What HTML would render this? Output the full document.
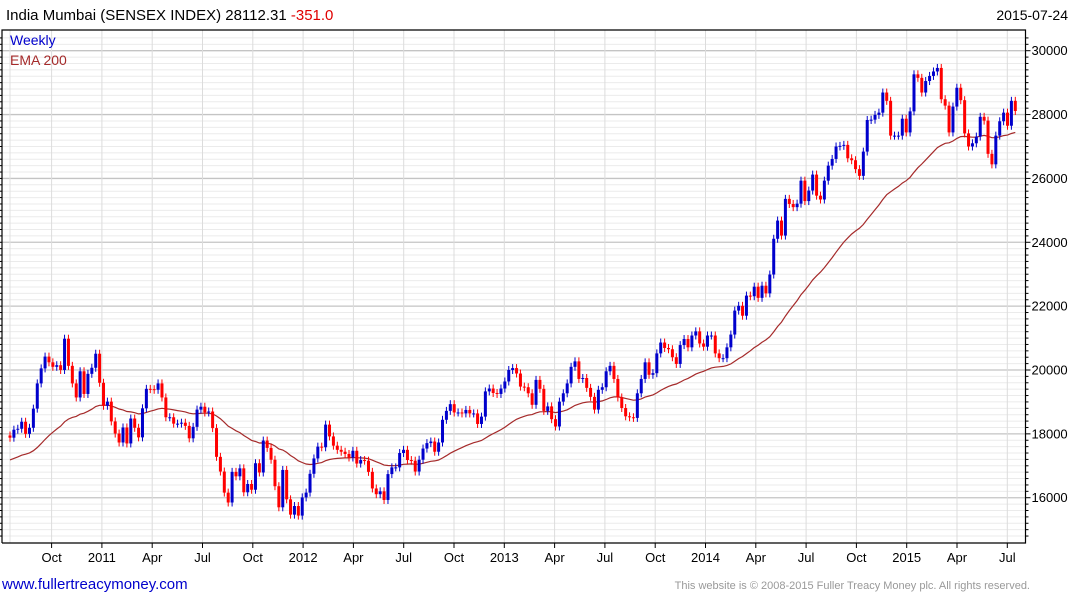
<!DOCTYPE html>
<html><head><meta charset="utf-8"><style>
body{margin:0;background:#fff;}
svg text{font-family:"Liberation Sans",sans-serif;}
</style></head><body>
<svg id="chart" width="1075" height="600" viewBox="0 0 1075 600" xmlns="http://www.w3.org/2000/svg">
<rect width="1075" height="600" fill="#fff"/>
<g id="grid"></g>
<g id="ema"></g>
<g id="candles"></g>
<g id="axes"></g>
<text x="6" y="20" font-size="15" fill="#000">India Mumbai (SENSEX INDEX) 28112.31 <tspan fill="#e00000">-351.0</tspan></text>
<text x="1068" y="20" font-size="14" text-anchor="end" fill="#000">2015-07-24</text>
<text x="10" y="45" font-size="14" fill="#0000cc">Weekly</text>
<text x="10" y="65" font-size="14" fill="#a52a2a">EMA 200</text>
<text x="2" y="589" font-size="15" fill="#0000cc">www.fullertreacymoney.com</text>
<text x="1030" y="589" font-size="11" text-anchor="end" fill="#999">This website is © 2008-2015 Fuller Treacy Money plc. All rights reserved.</text>
</svg>
<script>
const closes=[17880,18130,18160,18380,18000,18190,18790,19580,20050,20420,20240,20100,20150,20000,20980,20130,19580,19140,19960,19250,19880,20070,20510,19600,18880,19010,18390,18010,17730,18200,17700,18480,18190,17890,18800,19410,19400,19380,19580,19140,18520,18520,18320,18320,18350,18250,17860,18220,18760,18850,18670,18700,18180,17280,16820,16160,15850,16810,16670,16920,16170,16430,16250,17080,16790,
17790,17560,17190,16360,15700,16870,15950,15470,15740,15440,16010,16160,16750,17230,17600,17580,18290,17920,17630,17500,17440,17370,17260,17470,17070,17180,17160,16810,16290,16110,16200,15930,16740,16950,16950,17400,17500,17180,17160,16820,17190,17540,17710,17760,17440,17730,18440,18720,18930,18670,18670,18640,18750,18640,18640,18310,18540,19330,19420,19280,19250,19420,19640,20000,
20060,19890,19480,19460,19270,18910,19690,19410,18720,18860,18460,18230,19010,19270,19580,20100,20270,19720,19750,19440,19160,18760,19380,19460,19960,20130,19720,19140,18810,18550,18520,18500,19270,19720,20240,19850,19900,20520,20860,20690,20650,20400,20190,20780,20970,20710,21080,21210,20830,20730,21080,21080,20520,20370,20370,20710,21110,21860,22010,
21700,22330,22310,22610,22260,22640,22400,22990,24110,24680,24210,25360,25200,25100,25210,25930,25290,25620,26120,25460,25340,25930,26400,26610,27000,27020,27050,26630,26570,26290,26080,26840,27830,27840,27990,28060,28690,28430,27340,27340,27340,27870,27440,28100,29260,29150,28690,29050,29210,29350,29460,28480,28280,27440,28250,28840,28450,27410,27000,27100,27310,27930,27810,26770,26440,27340,27790,28060,27650,28430,28112];
const emaSeed=[17150];
const yTicks=[16000,18000,20000,22000,24000,26000,28000,30000];
const xLabels=["Oct","2011","Apr","Jul","Oct","2012","Apr","Jul","Oct","2013","Apr","Jul","Oct","2014","Apr","Jul","Oct","2015","Apr","Jul"];

const NS="http://www.w3.org/2000/svg";
const L=2,R=1025.5,T=30,B=543;
const x0=10,xEnd=1015.3;
const n=closes.length;
function xs(i){return x0+i*(xEnd-x0)/(n-1);}
function ys(v){return 50.7+(30000-v)*0.03193;}
function qx(k){return 906.7+(k-17)*50.3;}
function mk(tag,attrs,parent){const e=document.createElementNS(NS,tag);for(const k in attrs)e.setAttribute(k,attrs[k]);parent.appendChild(e);return e;}
const grid=document.getElementById('grid'),axes=document.getElementById('axes'),cg=document.getElementById('candles'),eg=document.getElementById('ema');
// horizontal grid
for(let v=14800;v<=30400;v+=200){const y=ys(v);if(y<T||y>B)continue;
 const major=(v%2000===0);
 const ln=mk('line',{x1:L,x2:R,y1:y,y2:y,stroke:major?'#c4c4c4':'#ebebeb','stroke-width':major?1.3:1},grid);
 
 
 const tk=mk('line',{x1:R,x2:R+(major?5:3),y1:y,y2:y,stroke:'#000'},axes);
 
 
 const tl=mk('line',{x1:L,x2:L-2,y1:y,y2:y,stroke:'#000'},axes);
 
 
}
// vertical grid
const vl=mk('line',{x1:10,x2:10,y1:T,y2:B,stroke:'#e0e0e0'},grid);


xLabels.forEach((lab,k)=>{const x=qx(k);
 const g=mk('line',{x1:x,x2:x,y1:T,y2:B,stroke:'#dcdcdc'},grid);
 
 
 const tk=mk('line',{x1:x,x2:x,y1:B,y2:B+5,stroke:'#000'},axes);
 
 
 const t=mk('text',{x:x,y:B+19,'font-size':13,'text-anchor':'middle',fill:'#000'},axes);
 t.textContent=lab;
 
 
});
yTicks.forEach(v=>{const t=mk('text',{x:R+6,y:ys(v)+4.5,'font-size':13,fill:'#000'},axes);
 t.textContent=String(v);
 
 
});
// frame
const fr=mk('path',{d:`M${L},${B} L${L},${T} L${R},${T} L${R},${B} L${L},${B}`,fill:'none',stroke:'#000','stroke-width':1.2},axes);


// ema
let e=emaSeed[0];const a=2/41;let pts=[];
closes.forEach((c,i)=>{e=e+a*(c-e);pts.push(xs(i).toFixed(1)+','+ys(e).toFixed(1));});
const pl=mk('polyline',{points:pts.join(' '),fill:'none',stroke:'#a52a2a','stroke-width':1.2},eg);


// candles
closes.forEach((c,i)=>{const o=i===0?17950:closes[i-1];const up=c>=o;const col=up?'#0000cc':'#ff0000';
 const x=xs(i);const top=ys(Math.max(o,c)),bot=ys(Math.min(o,c));
 const w=mk('line',{x1:x,x2:x,y1:top-4,y2:bot+4,stroke:col,'stroke-width':1},cg);
 
 
 const r=mk('rect',{x:x-1.5,y:top,width:3,height:Math.max(1,bot-top),fill:col},cg);
 
 
});
</script>
</body></html>
